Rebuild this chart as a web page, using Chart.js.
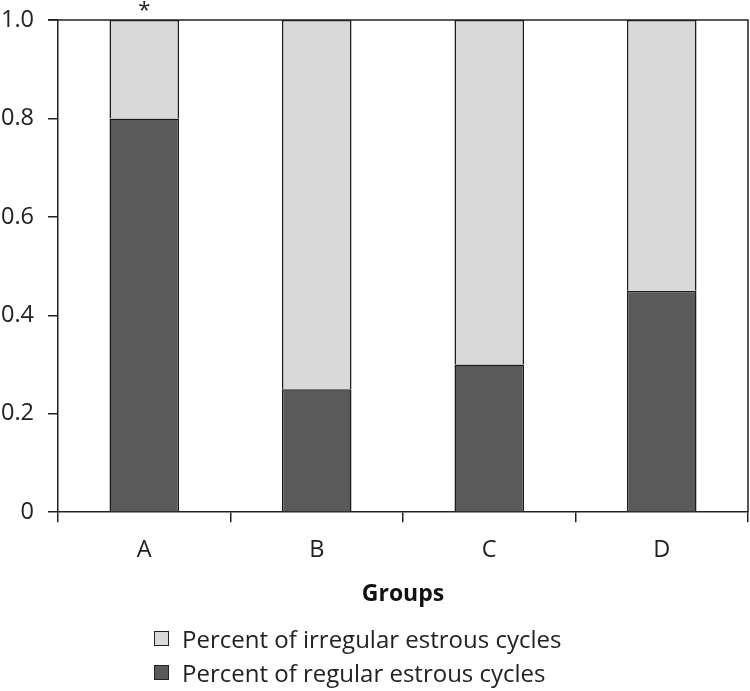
<!DOCTYPE html>
<html>
<head>
<meta charset="utf-8">
<script src="https://cdn.jsdelivr.net/npm/chart.js@4"></script>
<style>
  html, body { margin: 0; padding: 0; background: #fff; }
  #wrap { position: relative; width: 750px; height: 691px; }
  #legend { position: absolute; left: 154px; top: 621px; font-family: "Open Sans", sans-serif; font-size: 24px; color: #222; }
  .item { display: flex; align-items: center; height: 34px; }
  .box { width: 15px; height: 15px; border: 1.5px solid #222; margin-right: 13px; box-sizing: border-box; }
</style>
</head>
<body>
<div id="wrap">
  <canvas id="c" width="750" height="691"></canvas>
  <div id="legend"></div>
</div>
<script>
const categories = ["A", "B", "C", "D"];
const regular = [0.8, 0.25, 0.3, 0.45];
const irregular = [0.2, 0.75, 0.7, 0.55];
const marks = ["*", "", "", ""];
const yTicks = [0, 0.2, 0.4, 0.6, 0.8, 1.0];
const seriesNames = ["Percent of irregular estrous cycles", "Percent of regular estrous cycles"];
const colors = { irregular: "#d9d9d9", regular: "#5a5a5a" };

const FONT = "'Open Sans', sans-serif";

const framePlugin = {
  id: "frame",
  afterDraw(chart) {
    const { ctx, chartArea: a } = chart;
    ctx.save();
    ctx.strokeStyle = "#222";
    ctx.lineWidth = 1.5;
    ctx.beginPath();
    ctx.moveTo(a.left - 10, a.top);
    ctx.lineTo(a.right, a.top);
    ctx.lineTo(a.right, a.bottom);
    ctx.stroke();
    const meta = chart.getDatasetMeta(1);
    ctx.fillStyle = "#222";
    ctx.font = "22px " + FONT;
    ctx.textAlign = "center";
    ctx.textBaseline = "middle";
    meta.data.forEach((el, i) => {
      if (marks[i]) ctx.fillText(marks[i], el.x, el.y - 9);
    });
    ctx.restore();
  }
};

new Chart(document.getElementById("c"), {
  type: "bar",
  data: {
    labels: categories,
    datasets: [
      { label: seriesNames[1], data: regular, backgroundColor: colors.regular, borderColor: "#1a1a1a", borderWidth: 1.5, barPercentage: 0.63, categoryPercentage: 0.64 },
      { label: seriesNames[0], data: irregular, backgroundColor: colors.irregular, borderColor: "#1a1a1a", borderWidth: 1.5, barPercentage: 0.63, categoryPercentage: 0.64 }
    ]
  },
  options: {
    responsive: false,
    animation: false,
    layout: { padding: { left: 0, right: 2, top: 20, bottom: 83 } },
    plugins: { legend: { display: false }, tooltip: { enabled: false } },
    scales: {
      x: {
        stacked: true,
        grid: { drawOnChartArea: false, color: "#222", lineWidth: 1.5, tickLength: 10, offset: true },
        border: { color: "#222", width: 1.5 },
        ticks: { font: { family: FONT, size: 23.5 }, color: "#222", padding: 14 },
        title: { display: true, text: "Groups", font: { family: FONT, size: 23, weight: "bold" }, color: "#111", padding: { top: 2, bottom: 0 } }
      },
      y: {
        stacked: true,
        min: 0, max: 1,
        afterBuildTicks(scale) { scale.ticks = yTicks.map(v => ({ value: v })); },
        afterFit(scale) { scale.width = 58; scale.paddingTop = 0; scale.paddingBottom = 0; },
        grid: { drawOnChartArea: false, color: "#222", lineWidth: 1.5, tickLength: 10 },
        border: { color: "#222", width: 1.5 },
        ticks: { font: { family: FONT, size: 23.5 }, color: "#222", padding: 14,
          callback: v => (v === 0 ? "0" : v.toFixed(1)) }
      }
    }
  },
  plugins: [framePlugin]
});

const legend = document.getElementById("legend");
[[seriesNames[0], colors.irregular], [seriesNames[1], colors.regular]].forEach(([name, col]) => {
  const d = document.createElement("div");
  d.className = "item";
  d.innerHTML = '<span class="box" style="background:' + col + '"></span><span>' + name + '</span>';
  legend.appendChild(d);
});
</script>
</body>
</html>
